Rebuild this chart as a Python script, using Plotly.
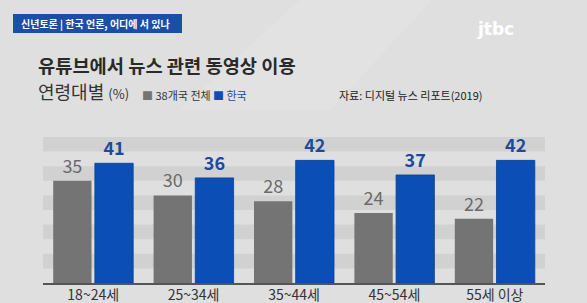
import plotly.graph_objects as go

categories = ["18~24세", "25~34세", "35~44세", "45~54세", "55세 이상"]
world_38 = [35, 30, 28, 24, 22]
korea = [41, 36, 42, 37, 42]
band_ranges = [(5, 10), (15, 20), (25, 30), (35, 40), (45, 50)]

W, H = 587, 303
L, R, T, B = 43, 42, 137, 20
PW, PH = W - L - R, H - T - B

def px(x):
    return (x - L) / PW

def py(y):
    return (H - B - y) / PH

FONT = "Noto Sans CJK KR"
GRAY = "#747474"
BLUE = "#0b4fb6"

fig = go.Figure()
fig.add_trace(go.Bar(
    x=categories, y=world_38, name="38개국 전체",
    marker=dict(color=GRAY, line=dict(width=0)),
    text=world_38, textposition="outside", cliponaxis=False,
    textfont=dict(family=FONT, size=18, color="#6a6a6a"),
))
fig.add_trace(go.Bar(
    x=categories, y=korea, name="한국",
    marker=dict(color=BLUE, line=dict(width=0.8, color="#0a3f92")),
    text=[f"<b>{v}</b>" for v in korea], textposition="outside", cliponaxis=False,
    textfont=dict(family=FONT, size=18, color="#1b4a9e"),
))

shapes = []
for lo, hi in band_ranges:
    shapes.append(dict(type="rect", xref="paper", yref="y", x0=0, x1=1, y0=lo, y1=hi,
                       fillcolor="#d1d1d1", line=dict(width=0), layer="below"))
# header box
shapes.append(dict(type="rect", xref="paper", yref="paper",
                   x0=px(13), x1=px(182), y0=py(33), y1=py(14),
                   fillcolor="#1b4ea6", line=dict(width=0)))
# subtle light streak in background
shapes.append(dict(type="path", xref="paper", yref="paper",
                   path=f"M {px(300)},{py(0)} L {px(432)},{py(0)} L {px(330)},{py(110)} L {px(180)},{py(110)} Z",
                   fillcolor="rgba(255,255,255,0.12)", line=dict(width=0), layer="below"))

annotations = [
    dict(text="<b>신년토론 | 한국 언론, 어디에 서 있나</b>", x=px(19), y=py(23.5),
         xanchor="left", yanchor="middle", font=dict(family=FONT, size=10, color="white")),
    dict(text="<b>jtbc</b>", x=px(495), y=py(29), xanchor="center", yanchor="middle",
         font=dict(family="DejaVu Sans", size=17, color="white")),
    dict(text="<b>유튜브에서 뉴스 관련 동영상 이용</b>", x=px(36), y=py(64.5),
         xanchor="left", yanchor="middle", font=dict(family=FONT, size=18.7, color="#2a2a2a")),
    dict(text='연령대별 <span style="font-size:13px">(%)</span>', x=px(36), y=py(91),
         xanchor="left", yanchor="middle", font=dict(family=FONT, size=18, color="#333333")),
    dict(text=f'<span style="color:{GRAY}">■</span> 38개국 전체', x=px(140), y=py(95),
         xanchor="left", yanchor="middle", font=dict(family=FONT, size=11, color="#333333")),
    dict(text=f'<span style="color:{BLUE}">■</span> <span style="color:#1b4a9e">한국</span>',
         x=px(211), y=py(95), xanchor="left", yanchor="middle",
         font=dict(family=FONT, size=11, color="#333333")),
    dict(text="자료: 디지털 뉴스 리포트(2019)", x=px(337), y=py(95),
         xanchor="left", yanchor="middle", font=dict(family=FONT, size=11, color="#222222")),
]
for a in annotations:
    a.update(xref="paper", yref="paper", showarrow=False)

fig.update_layout(
    width=W, height=H,
    margin=dict(l=L, r=R, t=T, b=B, autoexpand=False),
    paper_bgcolor="#dfdfdf", plot_bgcolor="rgba(0,0,0,0)",
    barmode="group", bargap=0.17, bargroupgap=0.08,
    showlegend=False,
    shapes=shapes, annotations=annotations,
    xaxis=dict(showline=True, linecolor="#555555", linewidth=2, ticks="",
               tickfont=dict(family=FONT, size=14, color="#333333"),
               showgrid=False, zeroline=False, automargin=False, ticklabelstandoff=-2),
    yaxis=dict(range=[0, 50], visible=False, showgrid=False, zeroline=False, automargin=False),
    font=dict(family=FONT),
)
fig.write_html("out.html")
